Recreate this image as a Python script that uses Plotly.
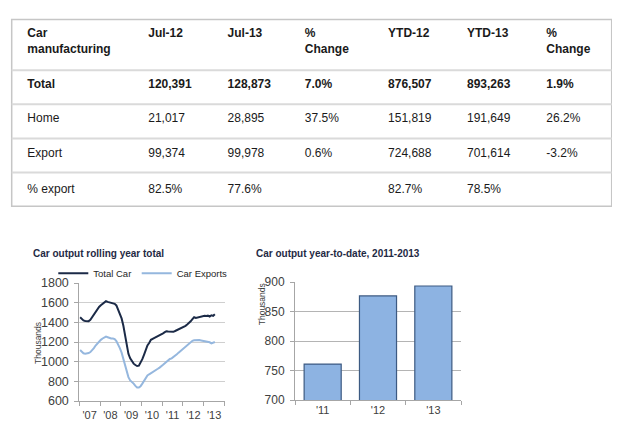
"""
Car manufacturing, July 2013: summary table, rolling year output and year-to-date output.
"""

import pandas as pd
import plotly.graph_objects as go

FONT = 'Liberation Sans, Arial, sans-serif'
# the page body keeps its 8px margin, so the figure is drawn 8px in from the window corner
PAGE_MARGIN = 8
W, H = 620 - PAGE_MARGIN, 439 - PAGE_MARGIN

# Table data
table_headers = ['Car<br>manufacturing', 'Jul-12', 'Jul-13', '%<br>Change', 'YTD-12', 'YTD-13', '%<br>Change']
row_labels = ['Total', 'Home', 'Export', '% export']
jul_12 = ['120,391', '21,017', '99,374', '82.5%']
jul_13 = ['128,873', '28,895', '99,978', '77.6%']
jul_change = ['7.0%', '37.5%', '0.6%', '']
ytd_12 = ['876,507', '151,819', '724,688', '82.7%']
ytd_13 = ['893,263', '191,649', '701,614', '78.5%']
ytd_change = ['1.9%', '26.2%', '-3.2%', '']

# Rolling year totals (thousands), monthly Jan 2007 - Jul 2013
months = pd.date_range('2007-01-01', periods=79, freq='MS') + pd.Timedelta(days=14)
total_car = [
    1452, 1433, 1420, 1414, 1416, 1412, 1425, 1450, 1480, 1510, 1537, 1556,  # 2007
    1573, 1585, 1598, 1615, 1608, 1603, 1598, 1596, 1588, 1572, 1533, 1490,  # 2008
    1440, 1365, 1262, 1158, 1080, 1034, 1000, 980, 966, 956, 960, 986,       # 2009
    1026, 1072, 1118, 1165, 1190, 1222, 1232, 1240, 1250, 1258, 1270, 1280,  # 2010
    1288, 1300, 1310, 1308, 1306, 1305, 1304, 1312, 1320, 1330, 1340, 1345,  # 2011
    1352, 1365, 1378, 1392, 1410, 1432, 1452, 1444, 1448, 1458, 1460, 1466,  # 2012
    1468, 1465, 1468, 1458, 1472, 1466, 1482,                                # 2013
]
car_exports = [
    1118, 1098, 1086, 1082, 1082, 1088, 1098, 1115, 1138, 1164, 1186, 1203,  # 2007
    1222, 1236, 1244, 1255, 1249, 1240, 1236, 1236, 1230, 1210, 1180, 1138,  # 2008
    1092, 1033, 962, 895, 843, 810, 797, 777, 754, 738, 738, 751,            # 2009
    777, 803, 836, 860, 872, 882, 892, 902, 915, 928, 940, 951,              # 2010
    968, 984, 1000, 1016, 1028, 1034, 1045, 1060, 1075, 1092, 1108, 1125,    # 2011
    1140, 1154, 1168, 1180, 1196, 1212, 1218, 1220, 1218, 1220, 1216, 1213,  # 2012
    1210, 1207, 1200, 1197, 1186, 1190, 1200,                                # 2013
]

# Year-to-date output (thousands)
ytd_years = ["'11", "'12", "'13"]
ytd_output = [761, 876.5, 893.3]


# positions below are given in window pixels
def px_x(p):
    return (p - PAGE_MARGIN) / W


def px_y(p):
    return 1 - (p - PAGE_MARGIN) / H


fig = go.Figure()

# Summary table, first row in bold
columns = [row_labels, jul_12, jul_13, jul_change, ytd_12, ytd_13, ytd_change]
cells = [['<b>%s</b>' % v if i == 0 else v for i, v in enumerate(col)] for col in columns]

table_top, header_h, row_h = 11.2, 51, 35.5
fig.add_trace(go.Table(
    domain=dict(x=[px_x(19.3), px_x(611.7)], y=[px_y(table_top + header_h + 4 * row_h + 2), px_y(table_top)]),
    columnwidth=[121, 79.4, 77.3, 83.3, 79, 79.4, 73],
    header=dict(values=['<b>%s</b>' % h for h in table_headers], align='left', height=header_h,
                fill_color='white', line_color='rgba(0,0,0,0)',
                font=dict(family=FONT, size=12, color='#1a1a1a')),
    cells=dict(values=cells, align='left', height=row_h,
               fill_color='white', line_color='rgba(0,0,0,0)',
               font=dict(family=FONT, size=12, color='#1a1a1a')),
))

# Line chart, one legend box per series so each can sit where the original has it
fig.add_trace(go.Scatter(x=months, y=total_car, name='Total Car', mode='lines',
                         line=dict(color='#1b2a47', width=2), xaxis='x', yaxis='y',
                         legend='legend'))
fig.add_trace(go.Scatter(x=months, y=car_exports, name='Car Exports', mode='lines',
                         line=dict(color='#95b7de', width=2), xaxis='x', yaxis='y',
                         legend='legend2'))

# Bar chart
fig.add_trace(go.Bar(x=ytd_years, y=ytd_output, showlegend=False, xaxis='x2', yaxis='y2',
                     marker=dict(color='#8db3e2', line=dict(color='#3c5a82', width=1.2))))

# Table border and row lines
shapes = [dict(type='rect', xref='paper', yref='paper', x0=px_x(11.7), x1=px_x(611.7),
               y0=px_y(205.7), y1=px_y(12.7), line=dict(color='#c6c6c6', width=1.5))]
for i in range(4):
    y = 65 + i * 35.3
    shapes.append(dict(type='line', xref='paper', yref='paper', x0=px_x(11.7), x1=px_x(611.7),
                       y0=px_y(y), y1=px_y(y), line=dict(color='#dadada', width=2)))

title_font = dict(family=FONT, size=10, color='#1f2a44')
label_font = dict(family=FONT, size=8.5, color='#404040')
annotations = [
    dict(text='<b>Car output rolling year total</b>', x=px_x(31), y=px_y(255), xanchor='left',
         yanchor='middle', font=title_font),
    dict(text='<b>Car output year-to-date, 2011-2013</b>', x=px_x(254), y=px_y(255), xanchor='left',
         yanchor='middle', font=title_font),
    dict(text='Thousands', textangle=-90, x=px_x(38), y=px_y(347), xanchor='center',
         yanchor='middle', font=label_font),
    dict(text='Thousands', textangle=-90, x=px_x(261.5), y=px_y(307.5), xanchor='center',
         yanchor='middle', font=label_font),
]
for a in annotations:
    a.update(xref='paper', yref='paper', showarrow=False)

legend_style = dict(orientation='h', y=px_y(275), xanchor='left', yanchor='middle',
                    font=dict(family=FONT, size=9.5, color='#262626'), bgcolor='rgba(0,0,0,0)')

axis_grey = '#a6a6a6'
fig.update_layout(
    width=W, height=H,
    margin=dict(l=0, r=0, t=0, b=0),
    paper_bgcolor='white',
    plot_bgcolor='white',
    font=dict(family=FONT, color='#404040'),
    shapes=shapes,
    annotations=annotations,
    bargap=0.33,
    legend=dict(x=px_x(53.3), **legend_style),
    legend2=dict(x=px_x(136.7), **legend_style),
    xaxis=dict(domain=[px_x(79.3), px_x(224.5)], anchor='y', type='date',
               range=['2007-01-01', '2014-01-01'], dtick='M12', tick0='2007-01-01',
               ticklabelmode='period', tickformat="'%y", ticks='outside', ticklen=4,
               tickcolor=axis_grey, showline=True, linecolor=axis_grey, showgrid=False,
               tickfont=dict(size=11, color='#404040')),
    yaxis=dict(domain=[px_y(407), px_y(285)], anchor='x', range=[600, 1800], dtick=200,
               showgrid=True, gridcolor='#cfcfcf', zeroline=False, showline=True,
               linecolor=axis_grey, ticks='outside', ticklen=4, tickcolor=axis_grey,
               ticklabelstandoff=3, tickfont=dict(size=12.5, color='#404040')),
    xaxis2=dict(domain=[px_x(295), px_x(461)], anchor='y2', tickson='boundaries',
                ticks='outside', ticklen=4, tickcolor=axis_grey, showline=True,
                linecolor=axis_grey, tickfont=dict(size=11, color='#404040')),
    yaxis2=dict(domain=[px_y(406), px_y(284)], anchor='x2', range=[700, 900], dtick=50,
                showgrid=True, gridcolor='#b4b4b4', zeroline=False, showline=True,
                linecolor=axis_grey, ticks='outside', ticklen=4, tickcolor=axis_grey,
                ticklabelstandoff=3, tickfont=dict(size=12, color='#404040')),
)

fig.write_html("out.html")
